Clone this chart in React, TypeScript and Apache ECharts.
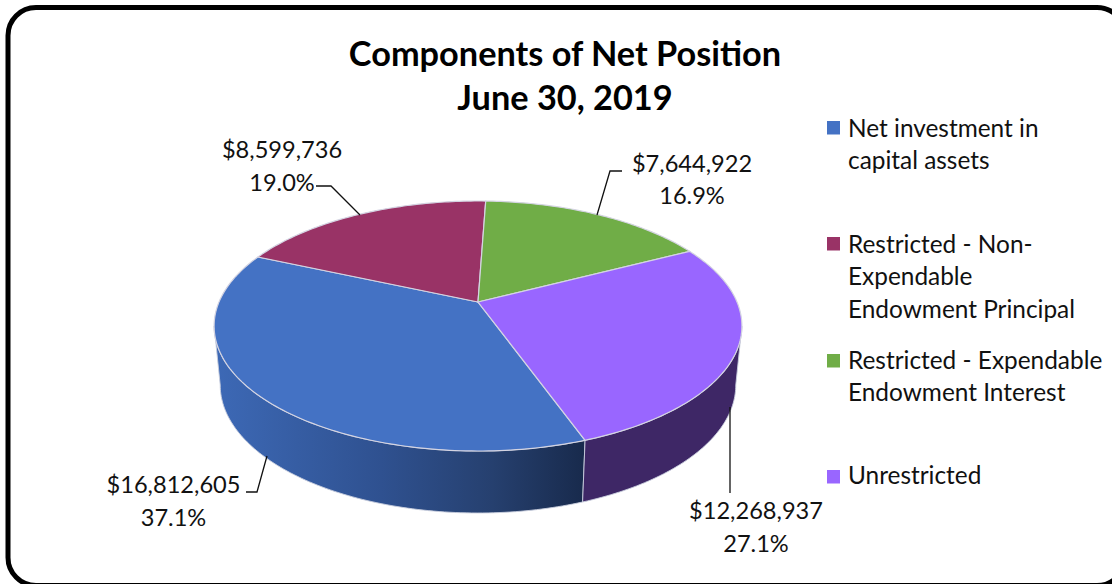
import React, { useEffect, useRef } from "react";
import * as echarts from "echarts";

const sliceNames = [
  "Net investment in capital assets",
  "Restricted - Non-Expendable Endowment Principal",
  "Restricted - Expendable Endowment Interest",
  "Unrestricted",
];
const sliceValues = [16812605, 8599736, 7644922, 12268937];
const legendLines = [
  "Net investment in\ncapital assets",
  "Restricted - Non-\nExpendable\nEndowment Principal",
  "Restricted - Expendable\nEndowment Interest",
  "Unrestricted",
];
const titleText = "Components of Net Position\nJune 30, 2019";

const topColors = ["#4472C4", "#993366", "#70AD47", "#9966FF"];
const FONT = "Lato";
const CX = 478;
const K = 0.192;
const START_DEG = 160.2;
const TANGENT_RIGHT = (Math.acos(-K) * 180) / Math.PI;
const TANGENT_LEFT = 360 - TANGENT_RIGHT;
const TOP = { y0: 302, a: 259, b: 120.4 };
const BOTTOM = { y0: 360.4, a: 253, b: 123.3 };
const labelPos = [
  { x: 173.5, y: 468 },
  { x: 282, y: 133 },
  { x: 692, y: 146.5 },
  { x: 756, y: 494 },
];
const leaderPts = [
  [[246, 492], [257, 492], [267, 456]],
  [[316, 186], [331, 186], [360, 215]],
  [[622, 171], [610, 171], [597, 215]],
  [[730, 493], [730, 407]],
];
const legendPos = [
  { box: 121, text: 111 },
  { box: 237, text: 227 },
  { box: 354, text: 343 },
  { box: 470, text: 458 },
];

const total = sliceValues.reduce((s, v) => s + v, 0);
const project = (deg: number, p: { y0: number; a: number; b: number }) => {
  const r = (deg * Math.PI) / 180;
  const u = Math.sin(r);
  const v = -Math.cos(r);
  const d = 1 - K * v;
  return [CX + (p.a * u) / d, p.y0 + (p.b * v) / d];
};
const range = (i: number) => {
  let before = 0;
  for (let j = 0; j < i; j++) before += sliceValues[j];
  const a0 = START_DEG + (before / total) * 360;
  return [a0, a0 + (sliceValues[i] / total) * 360];
};
const arc = (a0: number, a1: number, p: any) => {
  const n = Math.max(4, Math.ceil(a1 - a0));
  const out: number[][] = [];
  for (let i = 0; i <= n; i++) out.push(project(a0 + ((a1 - a0) * i) / n, p));
  return out;
};
// The front of the drum only: the part of a slice's angle range between the two tangent points.
const visibleRange = (a0: number, a1: number) => {
  for (const shift of [0, 360]) {
    const lo = Math.max(a0, TANGENT_RIGHT + shift);
    const hi = Math.min(a1, TANGENT_LEFT + shift);
    if (hi > lo) return [lo, hi];
  }
  return null;
};

const sideFill = (i: number) => {
  if (i === 0)
    return new echarts.graphic.LinearGradient(0, 0, 1, 0, [
      { offset: 0, color: "#3d69b6" },
      { offset: 0.45, color: "#2f5190" },
      { offset: 0.75, color: "#26406f" },
      { offset: 1, color: "#182a4c" },
    ]);
  return i === 3 ? "#3e2766" : i === 1 ? "#5c1f3d" : "#436829";
};

const renderSide = (params: any) => {
  const i = params.dataIndex;
  const [a0, a1] = range(i);
  const vis = visibleRange(a0, a1);
  if (!vis) return { type: "group", children: [] };
  const pts = [...arc(vis[0], vis[1], TOP), ...arc(vis[0], vis[1], BOTTOM).reverse()];
  return {
    type: "polygon",
    shape: { points: pts },
    style: { fill: sideFill(i), stroke: "#c8cede", lineWidth: 0.9 },
  };
};

const renderTop = (params: any) => {
  const i = params.dataIndex;
  const [a0, a1] = range(i);
  const pct = ((sliceValues[i] / total) * 100).toFixed(1) + "%";
  const label = "$" + sliceValues[i].toLocaleString("en-US") + "\n" + pct;
  return {
    type: "group",
    children: [
      {
        type: "polygon",
        shape: { points: [[CX, TOP.y0], ...arc(a0, a1, TOP)] },
        style: { fill: topColors[i], stroke: "#d4d4e2", lineWidth: 1.2 },
      },
      {
        type: "polyline",
        shape: { points: leaderPts[i] },
        style: { fill: "none", stroke: "#111", lineWidth: 1.3 },
      },
      {
        type: "text",
        style: {
          x: labelPos[i].x,
          y: labelPos[i].y,
          text: label,
          align: "center",
          verticalAlign: "top",
          fontFamily: FONT,
          fontSize: 23.6,
          lineHeight: 32.5,
          fill: "#111",
        },
      },
    ],
  };
};

export default function App() {
  const ref = useRef<HTMLDivElement>(null);
  useEffect(() => {
    const chart = echarts.init(ref.current!, undefined, { renderer: "svg" });
    chart.setOption({
      animation: false,
      backgroundColor: "#fff",
      title: {
        text: titleText,
        left: 560,
        top: 25,
        textAlign: "center",
        textStyle: {
          fontFamily: FONT,
          fontWeight: "bold",
          fontSize: 34.3,
          lineHeight: 44,
          color: "#000",
        },
      },
      graphic: [
        {
          type: "rect",
          z: -1,
          shape: { x: 8, y: 7.5, width: 1117, height: 578, r: 28 },
          style: { fill: "#fff", stroke: "#000", lineWidth: 5 },
        },
        ...legendLines.flatMap((t, i) => [
          {
            type: "rect",
            shape: { x: 827, y: legendPos[i].box, width: 13, height: 13.5 },
            style: { fill: topColors[i] },
          },
          {
            type: "text",
            style: {
              x: 848,
              y: legendPos[i].text,
              text: t,
              align: "left",
              verticalAlign: "top",
              fontFamily: FONT,
              fontSize: 24.4,
              lineHeight: 32.5,
              fill: "#111",
            },
          },
        ]),
      ],
      series: [
        {
          type: "custom",
          name: "side",
          coordinateSystem: "none",
          z: 2,
          silent: true,
          data: sliceValues.map((v, i) => ({ name: sliceNames[i], value: [v] })),
          renderItem: renderSide,
        },
        {
          type: "custom",
          name: "top",
          coordinateSystem: "none",
          z: 3,
          silent: true,
          data: sliceValues.map((v, i) => ({ name: sliceNames[i], value: [v] })),
          renderItem: renderTop,
        },
      ],
    });
    return () => chart.dispose();
  }, []);
  return (
    <div
      ref={ref}
      style={{ position: "absolute", left: 0, top: 0, width: 1112, height: 584 }}
    />
  );
}
